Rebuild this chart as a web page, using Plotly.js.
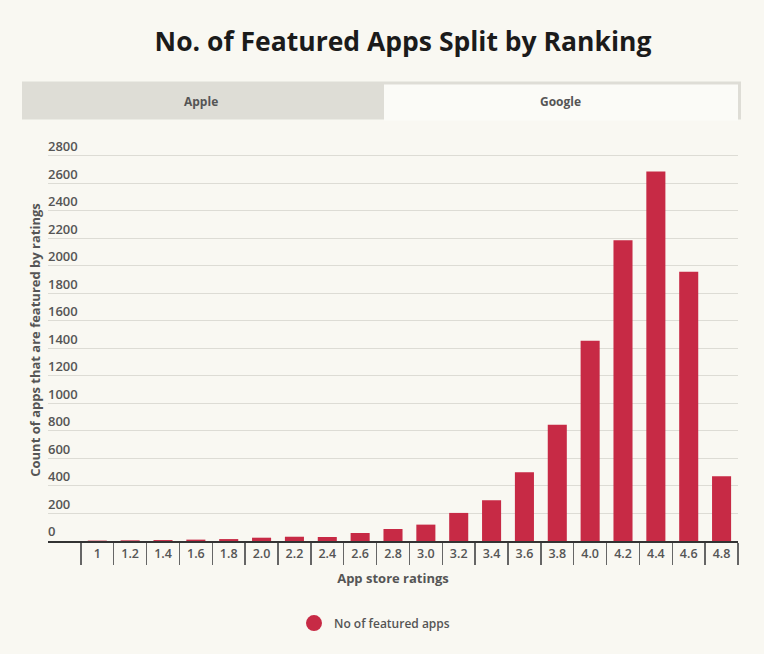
<!DOCTYPE html>
<html>
<head>
<meta charset="utf-8">
<script src="https://cdn.plot.ly/plotly-3.0.1.min.js"></script>
<style>
html,body{margin:0;padding:0;background:#f9f8f2;}
#chart{width:764px;height:654px;}
</style>
</head>
<body>
<div id="chart"></div>
<script>
const ratings = ["1","1.2","1.4","1.6","1.8","2.0","2.2","2.4","2.6","2.8","3.0","3.2","3.4","3.6","3.8","4.0","4.2","4.4","4.6","4.8"];
const featuredApps = [3,5,7,10,14,24,31,29,58,87,119,204,296,500,844,1455,2184,2684,1956,470];
const yTicks = [0,200,400,600,800,1000,1200,1400,1600,1800,2000,2200,2400,2600,2800];
const seriesName = "No of featured apps";
const tabLabels = ["Apple","Google"];

const W = 764, H = 654;
const L = 48, R = 738, B = 541;
const yMax = 3000;
const T = B - yMax * 0.1375;
const px2x = p => (p - L) / (R - L);
const py2y = p => (B - p) / (B - T);

const red = "#c72a45";
const fontFam = "'Open Sans', Lato, sans-serif";

const traces = [
  {
    type: "bar",
    x: ratings,
    y: featuredApps,
    marker: {color: red},
    width: 0.58,
    showlegend: false,
    hoverinfo: "x+y"
  },
  {
    type: "scatter",
    mode: "markers",
    x: [null],
    y: [null],
    name: seriesName,
    marker: {color: red, size: 16, symbol: "circle"},
    showlegend: true
  }
];

const layout = {
  width: W, height: H,
  paper_bgcolor: "#f9f8f2",
  plot_bgcolor: "#f9f8f2",
  margin: {l: L, r: W - R, t: T, b: H - B},
  font: {family: fontFam, color: "#555"},
  title: {
    text: "<b>No. of Featured Apps Split by Ranking</b>",
    font: {size: 26.5, color: "#1b1b1b", family: fontFam},
    xref: "container", yref: "container",
    x: 403 / W, xanchor: "center",
    y: 1 - 42 / H, yanchor: "middle"
  },
  xaxis: {
    type: "category",
    categoryorder: "array",
    categoryarray: ratings,
    range: [-1.5, ratings.length - 0.5],
    tickson: "boundaries",
    ticks: "outside",
    ticklen: 22,
    tickwidth: 1.5,
    tickcolor: "#666",
    tickfont: {size: 12.5, color: "#555", family: fontFam, weight: 600},
    showline: true,
    linecolor: "#333",
    linewidth: 2,
    showgrid: false,
    zeroline: false,
    fixedrange: true,
    title: {
      text: "<b>App store ratings</b>",
      font: {size: 13, color: "#555", family: fontFam},
      standoff: 13
    }
  },
  yaxis: {
    range: [0, yMax],
    tickvals: yTicks,
    ticktext: yTicks.map(String),
    ticks: "",
    ticklabelposition: "inside top",
    ticklabelshift: 0,
    ticklabelstandoff: -3,
    tickfont: {size: 13, color: "#555", family: fontFam, weight: 600},
    showgrid: true,
    gridcolor: "#dddcd5",
    gridwidth: 1,
    zeroline: false,
    showline: false,
    fixedrange: true
  },
  legend: {
    orientation: "h",
    x: px2x(294), xanchor: "left",
    y: py2y(623), yanchor: "middle",
    bgcolor: "rgba(0,0,0,0)",
    font: {size: 12, color: "#555", family: fontFam, weight: 600},
    itemsizing: "trace"
  },
  shapes: [
    {type: "rect", xref: "paper", yref: "paper",
     x0: px2x(22), x1: px2x(741), y0: py2y(120), y1: py2y(82),
     fillcolor: "#deddd6", line: {width: 0}, layer: "below"},
    {type: "rect", xref: "paper", yref: "paper",
     x0: px2x(384), x1: px2x(738), y0: py2y(121), y1: py2y(85),
     fillcolor: "#fbfbf7", line: {width: 0}, layer: "below"}
  ],
  annotations: [
    {xref: "paper", yref: "paper", x: px2x(201), y: py2y(102),
     text: "<b>" + tabLabels[0] + "</b>", showarrow: false,
     font: {size: 12, color: "#555", family: fontFam}, xanchor: "center", yanchor: "middle"},
    {xref: "paper", yref: "paper", x: px2x(560), y: py2y(102),
     text: "<b>" + tabLabels[1] + "</b>", showarrow: false,
     font: {size: 12, color: "#555", family: fontFam}, xanchor: "center", yanchor: "middle"},
    {xref: "paper", yref: "paper", x: px2x(35), y: py2y(340),
     text: "<b>Count of apps that are featured by ratings</b>", showarrow: false, textangle: -90,
     font: {size: 13, color: "#555", family: fontFam}, xanchor: "center", yanchor: "middle"}
  ]
};

Plotly.newPlot("chart", traces, layout, {displayModeBar: false, staticPlot: true});
</script>
</body>
</html>
